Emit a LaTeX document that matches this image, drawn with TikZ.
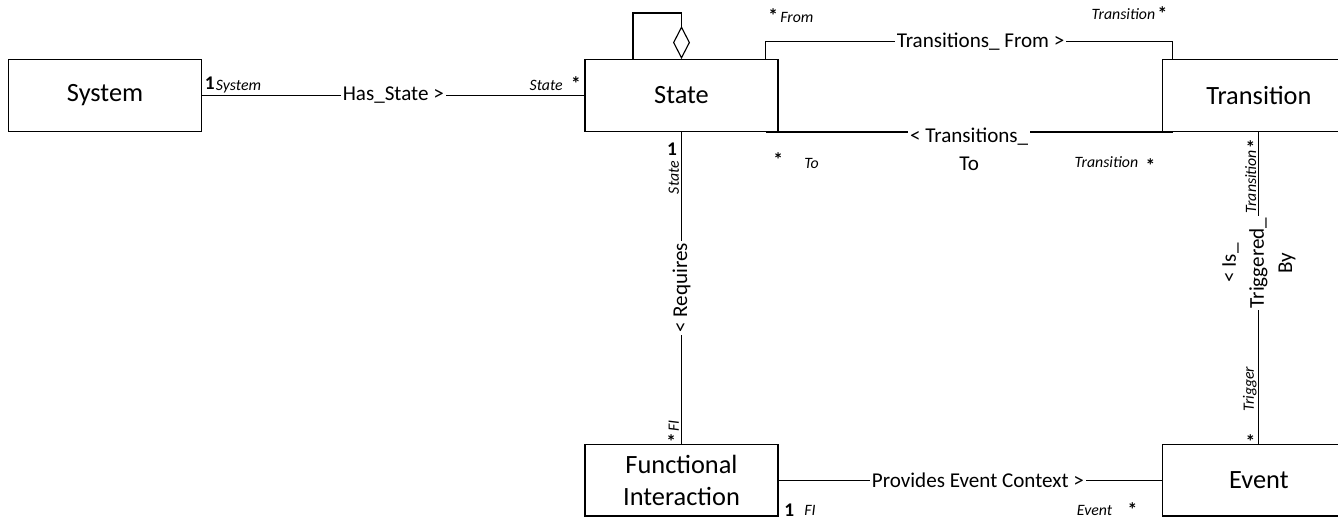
\documentclass[tikz,border=0pt]{standalone}
\usepackage{fontspec}
\setmainfont{Carlito}
\usepackage{tikz}
\usetikzlibrary{positioning}
\usetikzlibrary{arrows.meta}

\tikzset{
	entity/.style={draw, line width=0.8pt, minimum width=3.86cm, minimum height=1.43cm,
		inner sep=0pt, align=center, font=\fontsize{15}{18.5}\selectfont},
	assoc/.style={fill=white, inner sep=1pt, align=center, font=\fontsize{12}{16}\selectfont},
	role/.style={inner sep=0pt, font=\fontsize{9}{11}\selectfont\itshape},
	mult/.style={inner sep=0pt, font=\fontsize{11}{13}\selectfont\bfseries},
}

\begin{document}
\begin{tikzpicture}[line width=0.65pt]
			\clip (0,0) rectangle (26.76,10.4);

			% State
			\node [entity] (st) at (13.63,8.49) {State};

			% System
			\node [entity, left=7.64cm of st] (sys) {System};

			% Transition
			\node [entity, right=7.66cm of st] (tr) {Transition};

			% Functional Interaction
			\node [entity, below=6.24cm of st] (fi) {Functional\\Interaction};

			% Event
			\node [entity, right=7.66cm of fi] (ev) {Event};

			% Has_State
			\draw (sys) -- node[assoc] (hs) {Has\_State >}
				node[pos=0, mult, anchor=base west, xshift=0.04cm, yshift=0.11cm] (hs1) {1}
				node[pos=0, role, anchor=base west, xshift=0.26cm, yshift=0.09cm] (hs2) {System}
				node[pos=1, role, anchor=base east, xshift=-0.42cm, yshift=0.09cm] (hs3) {State}
				node[pos=1, mult, anchor=base east, xshift=-0.06cm, yshift=0.09cm] (hs4) {*}
				(st);

			% State aggregation
			\draw[-{Diamond[open, length=0.66cm, width=0.34cm]}]
				([xshift=-0.97cm]st.north) -- ++(0,0.92) -| (st.north);

			% Transitions_From
			\draw ([xshift=-0.26cm]st.north east) |- node[pos=0.764, assoc] (tf) {Transitions\_ From >}
				node[pos=0.5, mult, anchor=base west, xshift=0.04cm, yshift=0.38cm] (tf1) {*}
				node[pos=0.5, role, anchor=base west, xshift=0.28cm, yshift=0.38cm] (tf2) {From}
				([xshift=0.22cm, yshift=0.35cm]tr.north west)
				node[role, anchor=base east, xshift=-0.34cm, yshift=0.44cm] (tf3) {Transition}
				node[mult, anchor=base east, xshift=-0.1cm, yshift=0.42cm] (tf4) {*}
				-- ([xshift=0.22cm]tr.north west);

			% Transitions_To
			\draw ([xshift=-0.26cm]st.south east) -- node[assoc, anchor=north, yshift=0.12cm] (tt) {< Transitions\_\\To}
				node[pos=0, mult, anchor=base west, xshift=0.14cm, yshift=-0.69cm] (tt1) {*}
				node[pos=0, role, anchor=base west, xshift=0.76cm, yshift=-0.73cm] (tt2) {To}
				node[pos=1, role, anchor=base east, xshift=-0.68cm, yshift=-0.71cm] (tt3) {Transition}
				node[pos=1, mult, anchor=base east, xshift=-0.34cm, yshift=-0.81cm] (tt4) {*}
				([xshift=0.22cm]tr.south west);

			% Requires
			\draw (st) -- node[assoc, rotate=90] (rq) {< Requires}
				node[pos=0, mult, anchor=north east, xshift=-0.08cm, yshift=-0.21cm] (rq1) {1}
				node[pos=0, role, xshift=-0.04cm, yshift=-0.57cm, rotate=90, anchor=south east] (rq2) {State}
				node[pos=1, role, xshift=-0.04cm, yshift=0.23cm, rotate=90, anchor=south west] (rq3) {FI}
				node[pos=1, mult, anchor=base east, xshift=-0.1cm, yshift=-0.09cm] (rq4) {*}
				(fi);

			% Is_Triggered_By
			\draw (tr) -- node[pos=0.42, assoc, rotate=90] (itb) {< Is\_\\Triggered\_\\By}
				node[pos=0, role, xshift=-0.04cm, yshift=-0.35cm, rotate=90, anchor=south east] (itb1) {Transition}
				node[pos=0, mult, anchor=north east, xshift=-0.06cm, yshift=-0.17cm] (itb2) {*}
				node[pos=1, role, xshift=-0.1cm, yshift=0.63cm, rotate=90, anchor=base west] (itb3) {Trigger}
				node[pos=1, mult, anchor=base east, xshift=-0.06cm, yshift=-0.09cm] (itb4) {*}
				(ev);

			% Provides Event Context
			\draw (fi) -- node[pos=0.52, assoc] (pec) {Provides Event Context >}
				node[pos=0, mult, anchor=base west, xshift=0.1cm, yshift=-0.73cm] (pec1) {1}
				node[pos=0, role, anchor=base west, xshift=0.5cm, yshift=-0.71cm] (pec2) {FI}
				node[pos=1, role, anchor=base east, xshift=-0.98cm, yshift=-0.71cm] (pec3) {Event}
				node[pos=1, mult, anchor=base east, xshift=-0.48cm, yshift=-0.72cm] (pec4) {*}
				(ev);

\end{tikzpicture}
\end{document}
